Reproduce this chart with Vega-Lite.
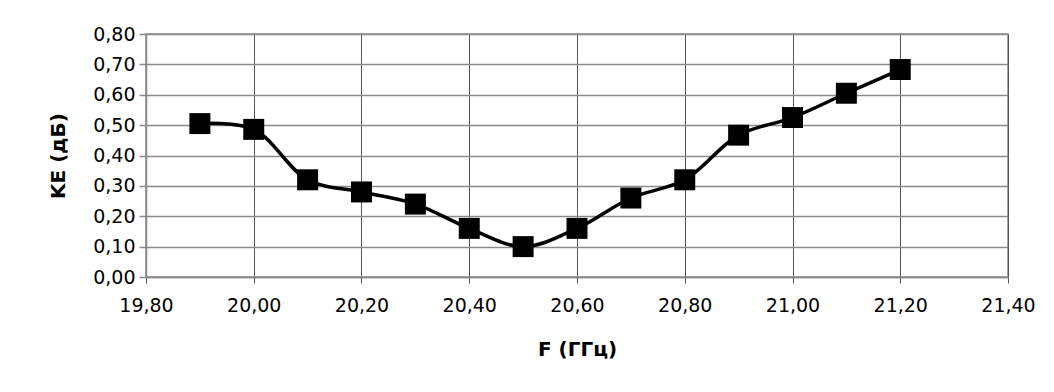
{
  "$schema": "https://vega.github.io/schema/vega-lite/v6.json",
  "autosize": {"type": "none"},
  "padding": {"left": 146, "top": 34, "right": 46, "bottom": 115},
  "width": 862,
  "height": 243,
  "background": "white",
  "config": {
    "view": {"stroke": "#8a8a8a", "strokeWidth": 1.5},
    "font": "DejaVu Sans"
  },
  "data": {
    "values": [
      {"F": 19.9, "KE": 0.505},
      {"F": 20.0, "KE": 0.486},
      {"F": 20.1, "KE": 0.32},
      {"F": 20.2, "KE": 0.28},
      {"F": 20.3, "KE": 0.24},
      {"F": 20.4, "KE": 0.16},
      {"F": 20.5, "KE": 0.10},
      {"F": 20.6, "KE": 0.16},
      {"F": 20.7, "KE": 0.26},
      {"F": 20.8, "KE": 0.32},
      {"F": 20.9, "KE": 0.467},
      {"F": 21.0, "KE": 0.525},
      {"F": 21.1, "KE": 0.605},
      {"F": 21.2, "KE": 0.683}
    ]
  },
  "encoding": {
    "x": {
      "field": "F",
      "type": "quantitative",
      "scale": {"domain": [19.8, 21.4], "nice": false, "zero": false},
      "axis": {
        "title": "F (ГГц)",
        "values": [19.8, 20.0, 20.2, 20.4, 20.6, 20.8, 21.0, 21.2, 21.4],
        "labelExpr": "replace(format(datum.value, '.2f'), '.', ',')",
        "labelFont": "DejaVu Sans",
        "labelFontSize": 19,
        "labelColor": "#000000",
        "labelPadding": 13,
        "labelFlush": false,
        "tickSize": 6,
        "tickColor": "#555555",
        "domainColor": "#8a8a8a",
        "domainWidth": 1.5,
        "gridColor": "#555555",
        "gridWidth": 1,
        "gridOpacity": 1,
        "titleFont": "DejaVu Sans",
        "titleFontSize": 20,
        "titleFontWeight": "bold",
        "titleColor": "#000000",
        "titlePadding": 24
      }
    },
    "y": {
      "field": "KE",
      "type": "quantitative",
      "scale": {"domain": [0, 0.8], "nice": false},
      "axis": {
        "title": "KE (дБ)",
        "values": [0, 0.1, 0.2, 0.3, 0.4, 0.5, 0.6, 0.7, 0.8],
        "labelExpr": "replace(format(datum.value, '.2f'), '.', ',')",
        "labelFont": "DejaVu Sans",
        "labelFontSize": 19,
        "labelColor": "#000000",
        "labelPadding": 4,
        "labelFlush": false,
        "tickSize": 7,
        "tickColor": "#8a8a8a",
        "tickWidth": 1.5,
        "domainColor": "#8a8a8a",
        "domainWidth": 1.5,
        "gridColor": "#8a8a8a",
        "gridWidth": 1.5,
        "gridOpacity": 1,
        "titleFont": "DejaVu Sans",
        "titleFontSize": 20,
        "titleFontWeight": "bold",
        "titleColor": "#000000",
        "titlePadding": 24
      }
    }
  },
  "layer": [
    {
      "mark": {"type": "line", "interpolate": "catmull-rom", "color": "#000000", "strokeWidth": 3.5}
    },
    {
      "mark": {"type": "point", "shape": "square", "filled": true, "color": "#000000", "opacity": 1, "size": 440}
    }
  ]
}
